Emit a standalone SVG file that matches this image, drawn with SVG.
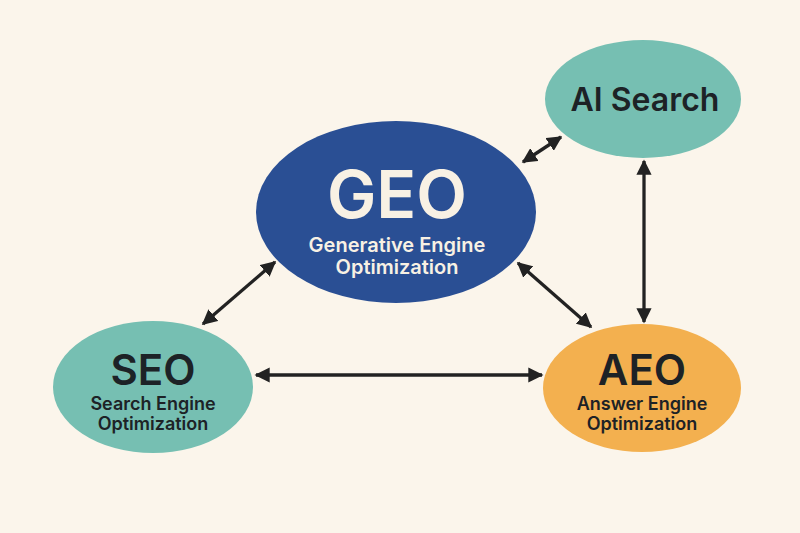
<svg xmlns="http://www.w3.org/2000/svg" width="800" height="533" viewBox="0 0 800 533">
<style>
.t{font-family:Inter,"Open Sans","Liberation Sans",sans-serif;text-anchor:middle;font-weight:600}
.dark{fill:#1d2226}
.light{fill:#f8f1e4}
.c{stroke:#222;stroke-width:3.3;fill:none;marker-start:url(#ah);marker-end:url(#ah)}
</style>
<defs>
<marker id="ah" viewBox="0 0 10 10" refX="9" refY="5" markerWidth="4.6" markerHeight="4.6" orient="auto-start-reverse" markerUnits="strokeWidth">
<path d="M0,0 L10,5 L0,10 z" fill="#222"/>
</marker>
</defs>
<rect width="800" height="533" fill="#fbf5eb"/>
<g id="connectors">
<line class="c" x1="523" y1="162" x2="561" y2="137"/>
<line class="c" x1="644" y1="161" x2="644" y2="322"/>
<line class="c" x1="518" y1="263" x2="591" y2="327"/>
<line class="c" x1="256" y1="375" x2="542" y2="375"/>
<line class="c" x1="203" y1="324" x2="275" y2="262"/>
</g>
<g id="geo">
<ellipse cx="396" cy="212" rx="140" ry="91" fill="#2a4f94"/>
<text class="t light" x="397" y="218" font-size="66">GEO</text>
<text class="t light" x="397" y="252" font-size="20">Generative Engine</text>
<text class="t light" x="397" y="274" font-size="20">Optimization</text>
</g>
<g id="ai-search">
<ellipse cx="643" cy="99" rx="98" ry="59" fill="#76bfb2"/>
<text class="t dark" x="645" y="111" font-size="32">AI Search</text>
</g>
<g id="seo">
<ellipse cx="153" cy="387" rx="100" ry="66" fill="#76bfb2"/>
<text class="t dark" x="153" y="385" font-size="42">SEO</text>
<text class="t dark" x="153" y="410" font-size="18">Search Engine</text>
<text class="t dark" x="153" y="430" font-size="18">Optimization</text>
</g>
<g id="aeo">
<ellipse cx="642" cy="388" rx="99" ry="64" fill="#f3b04f"/>
<text class="t dark" x="642" y="385" font-size="42">AEO</text>
<text class="t dark" x="642" y="410" font-size="18">Answer Engine</text>
<text class="t dark" x="642" y="430" font-size="18">Optimization</text>
</g>
</svg>
